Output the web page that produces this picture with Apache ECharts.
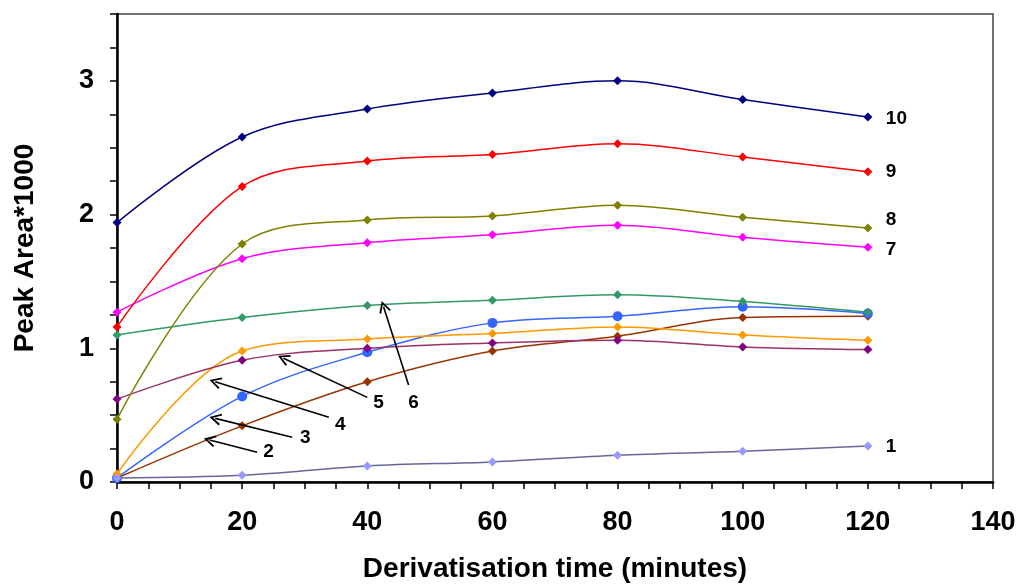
<!DOCTYPE html>
<html>
<head>
<meta charset="utf-8">
<script src="https://cdn.jsdelivr.net/npm/echarts@6/dist/echarts.min.js"></script>
<style>
  html, body { margin: 0; padding: 0; background: #fff; }
  #chart { width: 1019px; height: 587px; }
</style>
</head>
<body>
<div id="chart"></div>
<script>
// Derivatisation time (minutes) at which each sample was measured
const times = [0, 20, 40, 60, 80, 100, 120];

// Peak area (x1000) for each compound, numbered 1-10
const s1  = [0.03, 0.05, 0.12, 0.15, 0.20, 0.23, 0.27];
const s2  = [0.03, 0.42, 0.75, 0.98, 1.09, 1.23, 1.24];
const s3  = [0.03, 0.64, 0.97, 1.19, 1.24, 1.31, 1.26];
const s4  = [0.06, 0.98, 1.07, 1.11, 1.16, 1.10, 1.06];
const s5  = [0.62, 0.91, 1.00, 1.04, 1.06, 1.01, 0.99];
const s6  = [1.10, 1.23, 1.32, 1.36, 1.40, 1.35, 1.27];
const s7  = [1.27, 1.67, 1.79, 1.85, 1.92, 1.83, 1.755];
const s8  = [0.47, 1.78, 1.96, 1.99, 2.07, 1.98, 1.90];
const s9  = [1.16, 2.21, 2.40, 2.45, 2.53, 2.43, 2.32];
const s10 = [1.94, 2.58, 2.79, 2.91, 3.00, 2.86, 2.73];

const seriesNames = ['1', '2', '3', '4', '5', '6', '7', '8', '9', '10'];
const seriesValues = [s1, s2, s3, s4, s5, s6, s7, s8, s9, s10];

const xTicks = [0, 20, 40, 60, 80, 100, 120, 140];
const yTicks = [0, 1, 2, 3];

// Line / marker styling per compound
const styles = {
  '1':  { line: '#666699', mark: '#9999FF', symbol: 'diamond', endLabel: true, dy: 1 },
  '2':  { line: '#993300', mark: '#993300', symbol: 'diamond' },
  '3':  { line: '#3366FF', mark: '#3366FF', symbol: 'circle' },
  '4':  { line: '#FF9900', mark: '#FF9900', symbol: 'diamond' },
  '5':  { line: '#993366', mark: '#800080', symbol: 'diamond' },
  '6':  { line: '#339966', mark: '#339966', symbol: 'diamond' },
  '7':  { line: '#FF00FF', mark: '#FF00FF', symbol: 'diamond', endLabel: true, dy: 2 },
  '8':  { line: '#808000', mark: '#808000', symbol: 'diamond', endLabel: true, dy: -8 },
  '9':  { line: '#FF0000', mark: '#FF0000', symbol: 'diamond', endLabel: true, dy: 0 },
  '10': { line: '#000080', mark: '#000080', symbol: 'diamond', endLabel: true, dy: 2 }
};

// Callouts for compounds 2-6, in axis units:
// label, label centre (x, y), arrow tail (x, y), arrow tip (x, y)
const calloutLabels = ['2', '3', '4', '5', '6'];
const calloutText   = [[24.2, 0.224], [30.1, 0.329], [35.7, 0.426], [41.8, 0.591], [47.4, 0.591]];
const calloutTail   = [[22.4, 0.222], [28.0, 0.334], [33.85, 0.484], [40.0, 0.633], [46.6, 0.725]];
const calloutTip    = [[14.8, 0.314], [15.7, 0.476], [15.7, 0.750], [26.6, 0.925], [42.6, 1.311]];

const FONT = 'Arial, "Liberation Sans", sans-serif';
// open arrowhead, tip pointing up (rotated along the line by ECharts)
const chevron = 'path://M5,0 L10,9 L8.7,9.8 L5,3 L1.3,9.8 L0,9 Z';

const series = seriesNames.map((name, i) => {
  const st = styles[name];
  return {
    name: name,
    type: 'line',
    data: times.map((t, j) => [t, seriesValues[i][j]]),
    smooth: 0.35,
    symbol: st.symbol,
    symbolSize: st.symbol === 'circle' ? 10 : 9,
    showAllSymbol: true,
    lineStyle: { color: st.line, width: 1.5 },
    itemStyle: { color: st.mark },
    z: name === '1' ? 4 : 3,
    endLabel: st.endLabel ? {
      show: true,
      formatter: name,
      distance: 18,
      offset: [0, st.dy],
      color: '#000',
      fontFamily: FONT,
      fontWeight: 'bold',
      fontSize: 19
    } : { show: false },
    animation: false
  };
});

series.push({
  name: 'callouts',
  type: 'line',
  data: [],
  silent: true,
  z: 5,
  markLine: {
    silent: true,
    animation: false,
    symbol: ['none', chevron],
    symbolSize: 12,
    lineStyle: { color: '#000', width: 1.6, type: 'solid' },
    itemStyle: { color: '#000' },
    label: { show: false },
    data: calloutLabels.map((name, i) => [
      { coord: calloutTail[i] },
      { coord: calloutTip[i] }
    ])
  },
  markPoint: {
    silent: true,
    animation: false,
    symbol: 'circle',
    symbolSize: 0,
    label: {
      show: true,
      position: 'inside',
      color: '#000',
      fontFamily: FONT,
      fontWeight: 'bold',
      fontSize: 19
    },
    data: calloutLabels.map((name, i) => ({
      coord: calloutText[i],
      label: { formatter: name }
    }))
  }
});

const chart = echarts.init(document.getElementById('chart'), null, { renderer: 'canvas' });
chart.setOption({
  animation: false,
  backgroundColor: '#fff',
  grid: {
    left: 117, right: 26, top: 14, bottom: 105,
    containLabel: false,
    outerBoundsMode: 'none',
    show: true,
    borderColor: '#444',
    borderWidth: 1.5,
    backgroundColor: 'transparent'
  },
  xAxis: {
    type: 'value',
    min: 0, max: 140, interval: 5,
    name: 'Derivatisation time (minutes)',
    nameLocation: 'middle',
    nameGap: 73,
    nameTextStyle: { fontFamily: FONT, fontWeight: 'bold', fontSize: 28, color: '#000' },
    axisLine: { show: true, onZero: false, lineStyle: { color: '#000', width: 2.5 } },
    axisTick: { show: true, inside: false, length: 7, lineStyle: { color: '#000', width: 1.5 } },
    axisLabel: {
      margin: 27,
      fontFamily: FONT, fontWeight: 'bold', fontSize: 27, color: '#000',
      formatter: v => (xTicks.includes(v) ? String(v) : '')
    },
    splitLine: { show: false }
  },
  yAxis: {
    type: 'value',
    min: 0, max: 3.5, interval: 0.25,
    name: 'Peak Area*1000',
    nameLocation: 'middle',
    nameGap: 78,
    nameTextStyle: { fontFamily: FONT, fontWeight: 'bold', fontSize: 28, color: '#000' },
    axisLine: { show: true, onZero: false, lineStyle: { color: '#000', width: 2.5 } },
    axisTick: { show: true, inside: false, length: 7, lineStyle: { color: '#000', width: 1.5 } },
    axisLabel: {
      margin: 23,
      fontFamily: FONT, fontWeight: 'bold', fontSize: 27, color: '#000',
      formatter: v => (yTicks.includes(v) ? String(v) : '')
    },
    splitLine: { show: false }
  },
  legend: { show: false },
  tooltip: { show: false },
  series: series
});
</script>
</body>
</html>
